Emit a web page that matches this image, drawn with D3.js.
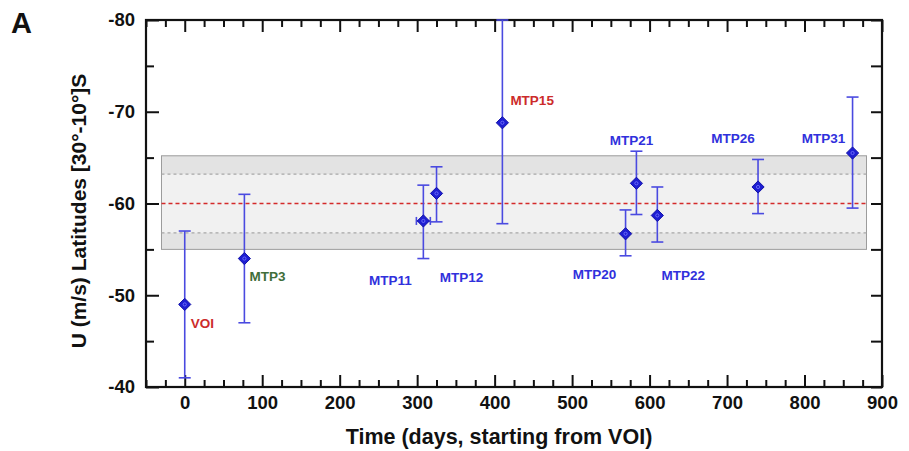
<!DOCTYPE html>
<html>
<head>
<meta charset="utf-8">
<script src="https://cdn.jsdelivr.net/npm/d3@7"></script>
<style>
  html, body { margin: 0; padding: 0; background: #fff; }
  svg { display: block; font-family: "Liberation Sans", Arial, sans-serif; }
</style>
</head>
<body>
<svg id="chart" width="909" height="451"></svg>
<script>
// ---- data ----
const labels   = ["VOI", "MTP3", "MTP11", "MTP12", "MTP15", "MTP20", "MTP21", "MTP22", "MTP26", "MTP31"];
const days     = [0, 77, 308, 325, 410, 569, 583, 610, 740, 862];
const dayErr   = [0, 0, 9, 0, 0, 0, 0, 0, 0, 0];
const uValues  = [-49, -54, -58.1, -61.1, -68.8, -56.7, -62.2, -58.7, -61.8, -65.5];
const uLow     = [-41, -47, -54, -58, -57.8, -54.3, -58.8, -55.8, -58.9, -59.5];
const uHigh    = [-57, -61, -62, -64, -80, -59.3, -65.7, -61.8, -64.8, -71.6];
const labelCol = ["red", "green", "blue", "blue", "red", "blue", "blue", "blue", "blue", "blue"];
const xTicks   = [0, 100, 200, 300, 400, 500, 600, 700, 800, 900];
const yTicks   = [-80, -70, -60, -50, -40];
const meanU    = -60;
const bandOuter = [-65.2, -55];
const bandInner = [-63.2, -56.8];
const bandDays  = [-30, 880];

// ---- layout ----
const svg = d3.select("#chart");
const L = 146, R = 882, T = 20, B = 387;
const x = d3.scaleLinear().domain([-50, 900]).range([L, R]);
const y = d3.scaleLinear().domain([-80, -40]).range([T, B]);
const colors = { red: "#cc2b2b", green: "#3f6e3a", blue: "#3030dc" };
// label offsets (px) relative to the point: [dx, dy, anchor]
const labelPos = {
  VOI: [6, 24, "start"], MTP3: [5, 22, "start"], MTP11: [-33, 64, "middle"],
  MTP12: [25, 89, "middle"], MTP15: [8, -18, "start"], MTP20: [-31, 45, "middle"],
  MTP21: [-5, -38, "middle"], MTP22: [26, 65, "middle"], MTP26: [-25, -44, "middle"],
  MTP31: [-29, -10, "middle"]
};

// band
svg.append("rect")
  .attr("x", x(bandDays[0])).attr("y", y(bandOuter[0]))
  .attr("width", x(bandDays[1]) - x(bandDays[0]))
  .attr("height", y(bandOuter[1]) - y(bandOuter[0]))
  .attr("fill", "#e3e3e3").attr("stroke", "#9c9c9c").attr("stroke-width", 1);
svg.append("rect")
  .attr("x", x(bandDays[0]) + 0.5).attr("y", y(bandInner[0]))
  .attr("width", x(bandDays[1]) - x(bandDays[0]) - 1)
  .attr("height", y(bandInner[1]) - y(bandInner[0]))
  .attr("fill", "#f1f1f1");
bandInner.forEach(v => {
  svg.append("line")
    .attr("x1", x(bandDays[0])).attr("x2", x(bandDays[1]))
    .attr("y1", y(v)).attr("y2", y(v))
    .attr("stroke", "#a8a8a8").attr("stroke-width", 1.2).attr("stroke-dasharray", "3,3");
});
svg.append("line")
  .attr("x1", x(bandDays[0])).attr("x2", x(bandDays[1]))
  .attr("y1", y(meanU)).attr("y2", y(meanU))
  .attr("stroke", "#d42a2a").attr("stroke-width", 1.3).attr("stroke-dasharray", "4,3");

// axes
const xMinor = d3.range(-50, 901, 25).filter(v => v % 100 !== 0);
const yMinor = d3.range(-75, -40, 10);
const plain = d => String(d);
function axisG(axis, tx, ty) {
  const g = svg.append("g").attr("transform", `translate(${tx},${ty})`).call(axis);
  g.select(".domain").remove();
  g.selectAll("line").attr("stroke", "#111").attr("stroke-width", 2);
  g.selectAll("text").attr("fill", "#111").attr("font-weight", "bold").attr("font-size", 18.5);
  return g;
}
axisG(d3.axisBottom(x).tickValues(xTicks).tickSize(-12).tickPadding(9).tickFormat(plain), 0, B);
axisG(d3.axisBottom(x).tickValues(xMinor).tickSize(-7).tickFormat(""), 0, B);
axisG(d3.axisTop(x).tickValues(xTicks).tickSize(-12).tickFormat(""), 0, T);
axisG(d3.axisTop(x).tickValues(xMinor).tickSize(-7).tickFormat(""), 0, T);
axisG(d3.axisLeft(y).tickValues(yTicks).tickSize(-13).tickPadding(11).tickFormat(plain), L, 0);
axisG(d3.axisLeft(y).tickValues(yMinor).tickSize(-8).tickFormat(""), L, 0);
axisG(d3.axisRight(y).tickValues(yTicks).tickSize(-11).tickFormat(""), R, 0);
axisG(d3.axisRight(y).tickValues(yMinor).tickSize(-11).tickFormat(""), R, 0);

// frame
svg.append("rect").attr("x", L).attr("y", T).attr("width", R - L).attr("height", B - T)
  .attr("fill", "none").attr("stroke", "#111").attr("stroke-width", 2.2);

// error bars
const ebColor = "#4a4ae0";
const cap = 6;
const pts = days.map((d, i) => ({ d, i, u: uValues[i], lo: uLow[i], hi: uHigh[i], xe: dayErr[i], name: labels[i] }));
const eg = svg.append("g").attr("stroke", ebColor).attr("stroke-width", 1.6);
pts.forEach(p => {
  eg.append("line").attr("x1", x(p.d)).attr("x2", x(p.d)).attr("y1", y(p.lo)).attr("y2", y(p.hi));
  [p.lo, p.hi].forEach(v => {
    eg.append("line").attr("x1", x(p.d) - cap).attr("x2", x(p.d) + cap).attr("y1", y(v)).attr("y2", y(v));
  });
  if (p.xe) {
    eg.append("line").attr("x1", x(p.d - p.xe)).attr("x2", x(p.d + p.xe)).attr("y1", y(p.u)).attr("y2", y(p.u));
    [p.d - p.xe, p.d + p.xe].forEach(v => {
      eg.append("line").attr("x1", x(v)).attr("x2", x(v)).attr("y1", y(p.u) - 4).attr("y2", y(p.u) + 4);
    });
  }
});

// markers
const diamond = d3.symbol().type(d3.symbolDiamond2).size(95);
svg.append("g").selectAll("path").data(pts).join("path")
  .attr("transform", p => `translate(${x(p.d)},${y(p.u)})`)
  .attr("d", diamond).attr("fill", "#1e1ed2").attr("stroke", "#1414a8").attr("stroke-width", 1);
svg.append("g").selectAll("circle").data(pts).join("circle")
  .attr("cx", p => x(p.d)).attr("cy", p => y(p.u)).attr("r", 1.6)
  .attr("fill", "none").attr("stroke", "#7a7aff").attr("stroke-width", 0.8);

// point labels
svg.append("g").selectAll("text").data(pts).join("text")
  .attr("x", p => x(p.d) + labelPos[p.name][0])
  .attr("y", p => y(p.u) + labelPos[p.name][1])
  .attr("text-anchor", p => labelPos[p.name][2])
  .attr("font-size", 13.5).attr("font-weight", "bold")
  .attr("fill", p => colors[labelCol[p.i]])
  .text(p => p.name);

// titles
svg.append("text").attr("x", 499).attr("y", 444)
  .attr("text-anchor", "middle").attr("font-size", 21.5).attr("font-weight", "bold").attr("fill", "#111")
  .text("Time (days, starting from VOI)");
svg.append("text").attr("transform", `translate(86,211) rotate(-90)`)
  .attr("text-anchor", "middle").attr("font-size", 21).attr("font-weight", "bold").attr("fill", "#111")
  .text("U (m/s) Latitudes [30°-10°]S");
svg.append("text").attr("x", 11).attr("y", 33)
  .attr("font-size", 29).attr("font-weight", "bold").attr("fill", "#111").text("A");
</script>
</body>
</html>
